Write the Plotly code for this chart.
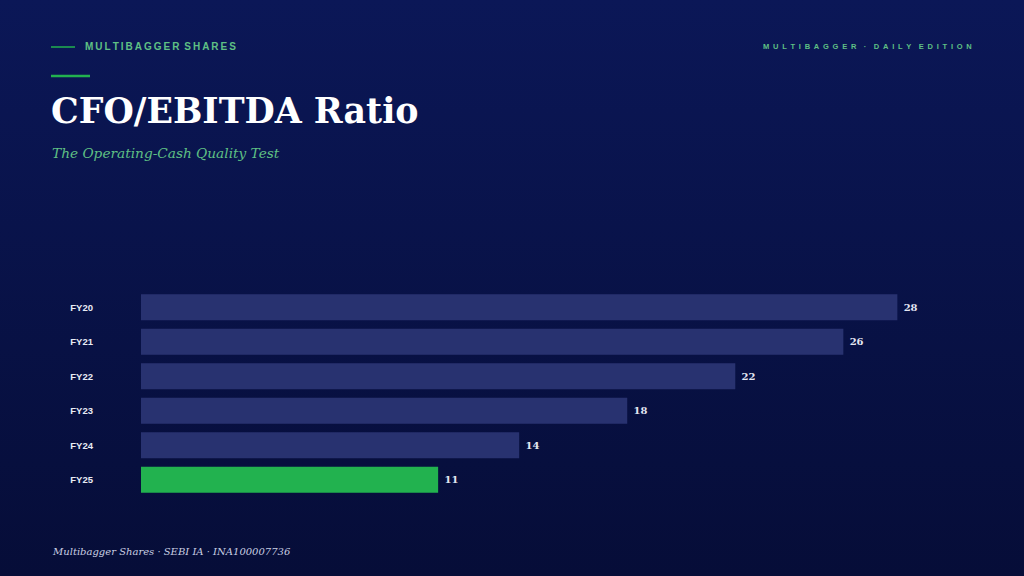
import base64

import plotly.graph_objects as go

years = ['FY20', 'FY21', 'FY22', 'FY23', 'FY24', 'FY25']
ratio = [28, 26, 22, 18, 14, 11]
bar_colors = ['#283270', '#283270', '#283270', '#283270', '#283270', '#22b24f']

W, H = 1024, 576


def px_x(x):
    return x / W


def px_y(y):
    return 1 - y / H


# background gradient as an inline svg (no network needed)
svg = ('<svg xmlns="http://www.w3.org/2000/svg" width="1024" height="576">'
       '<defs><linearGradient id="g" x1="0" y1="0" x2="0" y2="1">'
       '<stop offset="0" stop-color="#0b1757"/>'
       '<stop offset="1" stop-color="#060d38"/>'
       '</linearGradient></defs>'
       '<rect width="1024" height="576" fill="url(#g)"/></svg>')
bg_src = 'data:image/svg+xml;base64,' + base64.b64encode(svg.encode()).decode()

fig = go.Figure()
fig.add_trace(go.Bar(
    x=ratio, y=years, orientation='h',
    marker=dict(color=bar_colors, line=dict(width=0)),
    text=['\u2004' + str(v) for v in ratio], textposition='outside',
    textfont=dict(family='DejaVu Serif', size=10, color='#e3e6f2', weight='bold'),
    cliponaxis=False, hoverinfo='skip',
))

fig.update_layout(
    width=W, height=H,
    margin=dict(l=0, r=0, t=0, b=0),
    paper_bgcolor='#08114a', plot_bgcolor='rgba(0,0,0,0)',
    showlegend=False, bargap=0.25,
    images=[dict(source=bg_src, xref='paper', yref='paper', x=0, y=1,
                 sizex=1, sizey=1, xanchor='left', yanchor='top',
                 sizing='stretch', layer='below')],
    xaxis=dict(domain=[px_x(141), px_x(973)], range=[0, 30.8], visible=False,
               fixedrange=True),
    yaxis=dict(domain=[px_y(497), px_y(290)], autorange='reversed',
               showgrid=False, zeroline=False, showline=False, ticks='',
               ticklabelstandoff=47,
               tickfont=dict(family='Liberation Sans', size=9.5, color='#e8ebf5',
                             weight='bold'),
               fixedrange=True),
)

shapes = [
    dict(type='line', xref='paper', yref='paper', x0=px_x(51), x1=px_x(75),
         y0=px_y(47), y1=px_y(47), line=dict(color='#22b24f', width=1.5)),
    dict(type='line', xref='paper', yref='paper', x0=px_x(51), x1=px_x(90),
         y0=px_y(76), y1=px_y(76), line=dict(color='#22b24f', width=2.5)),
]
fig.update_layout(shapes=shapes)

ts = '\u2009'
fig.add_annotation(x=px_x(83), y=px_y(47), xref='paper', yref='paper',
                   xanchor='left', yanchor='middle', showarrow=False,
                   text=ts.join('MULTIBAGGER') + ' ' + ts + ts.join('SHARES'),
                   font=dict(family='Liberation Sans', size=10, color='#5fc084',
                             weight='bold'))
fig.add_annotation(x=px_x(974), y=px_y(46), xref='paper', yref='paper',
                   xanchor='right', yanchor='middle', showarrow=False,
                   text='\u2002'.join('MULTIBAGGER') + '\u2002\u2002·\u2002\u2002'
                   + '\u2002'.join('DAILY') + '\u2002\u2002' + '\u2002'.join('EDITION'),
                   font=dict(family='Liberation Sans', size=7.5, color='#5fc084',
                             weight='bold'))
fig.add_annotation(x=px_x(49), y=px_y(110), xref='paper', yref='paper',
                   xanchor='left', yanchor='middle', showarrow=False,
                   text='<b>CFO/EBITDA Ratio</b>',
                   font=dict(family='DejaVu Serif', size=34.8, color='#ffffff'))
fig.add_annotation(x=px_x(50), y=px_y(153), xref='paper', yref='paper',
                   xanchor='left', yanchor='middle', showarrow=False,
                   text='<i>The Operating-Cash Quality Test</i>',
                   font=dict(family='DejaVu Serif', size=13.7, color='#5fc084'))
fig.add_annotation(x=px_x(50), y=px_y(551), xref='paper', yref='paper',
                   xanchor='left', yanchor='middle', showarrow=False,
                   text='<i>Multibagger Shares · SEBI IA · INA100007736</i>',
                   font=dict(family='DejaVu Serif', size=10, color='#c9cee2'))

fig.write_html("out.html", config={'displayModeBar': False},
               post_script="document.body.style.margin='0';"
                           "document.body.style.overflow='hidden';")
